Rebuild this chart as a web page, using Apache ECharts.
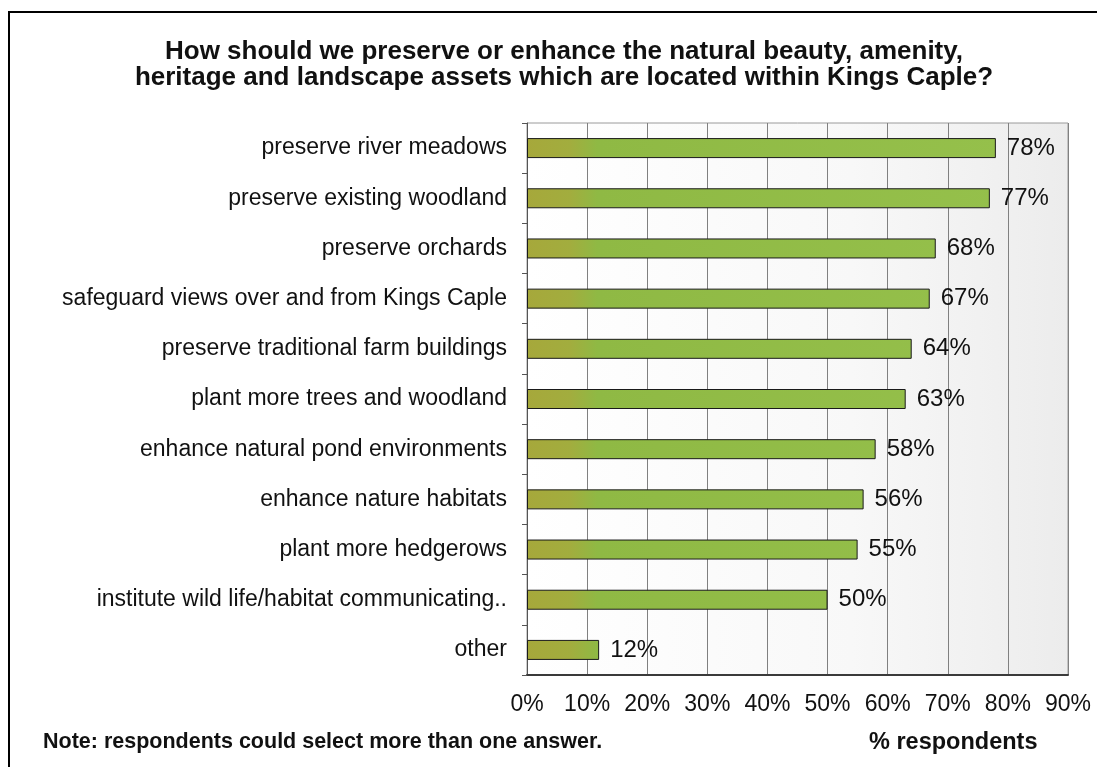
<!DOCTYPE html>
<html>
<head>
<meta charset="utf-8">
<style>
  html, body { margin: 0; padding: 0; background: #ffffff; }
  #chart { width: 1097px; height: 767px; }
</style>
<script src="https://cdn.jsdelivr.net/npm/echarts@6/dist/echarts.min.js"></script>
</head>
<body>
<div id="chart"></div>
<script>
// Survey answers, listed top to bottom
const categories = [
  'preserve river meadows',
  'preserve existing woodland',
  'preserve orchards',
  'safeguard views over and from Kings Caple',
  'preserve traditional farm buildings',
  'plant more trees and woodland',
  'enhance natural pond environments',
  'enhance nature habitats',
  'plant more hedgerows',
  'institute wild life/habitat communicating..',
  'other'
];
// Share of respondents choosing each answer (%)
const percentages = [78, 77, 68, 67, 64, 63, 58, 56, 55, 50, 12];
// Value-axis range and step (%)
const axisMin = 0;
const axisMax = 90;
const axisStep = 10;

const FONT = '"Liberation Sans", Arial, sans-serif';
const chart = echarts.init(document.getElementById('chart'));

// Bars share one horizontal gradient laid out in plot pixels
const barFill = new echarts.graphic.LinearGradient(527, 0, 1068, 0, [
  { offset: 0.0, color: '#a6a83b' },
  { offset: 0.08, color: '#a2ad3e' },
  { offset: 0.13, color: '#8fb944' },
  { offset: 1.0, color: '#96c14c' }
], true);

chart.setOption({
  backgroundColor: '#ffffff',
  animation: false,
  title: {
    text: 'How should we preserve or enhance the natural beauty, amenity,\nheritage and landscape assets which are located within Kings Caple?',
    left: 559,
    top: 34,
    textAlign: 'center',
    textStyle: {
      fontFamily: FONT,
      fontSize: 26,
      fontWeight: 'bold',
      color: '#111111',
      lineHeight: 26
    }
  },
  grid: {
    left: 527,
    right: 29,
    top: 123,
    bottom: 92,
    show: true,
    borderColor: '#9a9a9a',
    borderWidth: 1,
    backgroundColor: new echarts.graphic.LinearGradient(0, 0, 1, 0, [
      { offset: 0, color: '#ffffff' },
      { offset: 0.6, color: '#f8f8f8' },
      { offset: 1, color: '#ececec' }
    ])
  },
  xAxis: {
    type: 'value',
    min: axisMin,
    max: axisMax,
    interval: axisStep,
    axisLine: { show: true, lineStyle: { color: '#3a3a3a', width: 2 } },
    axisTick: { show: false },
    splitLine: { show: true, lineStyle: { color: '#808080', width: 1 } },
    axisLabel: {
      formatter: '{value}%',
      margin: 18,
      fontFamily: FONT,
      fontSize: 23,
      color: '#111111'
    }
  },
  yAxis: {
    type: 'category',
    data: categories,
    inverse: true,
    axisLine: { show: true, lineStyle: { color: '#555555', width: 1 } },
    axisTick: { show: true, length: 5, lineStyle: { color: '#555555' } },
    axisLabel: {
      margin: 20,
      fontFamily: FONT,
      fontSize: 23,
      color: '#111111'
    }
  },
  series: [{
    type: 'bar',
    data: percentages,
    barWidth: 20,
    itemStyle: {
      color: barFill,
      borderColor: '#1a1a1a',
      borderWidth: 1
    },
    label: {
      show: true,
      position: 'right',
      distance: 11,
      formatter: '{c}%',
      fontFamily: FONT,
      fontSize: 24,
      color: '#111111'
    }
  }],
  graphic: [
    {
      type: 'rect',
      shape: { x: 9, y: 12, width: 1100, height: 770 },
      style: { fill: 'none', stroke: '#000000', lineWidth: 2 },
      silent: true
    },
    {
      type: 'text',
      left: 43,
      top: 731,
      style: {
        text: 'Note: respondents could select more than one answer.',
        fontFamily: FONT,
        fontSize: 21.5,
        fontWeight: 'bold',
        fill: '#111111'
      }
    },
    {
      type: 'text',
      left: 869,
      top: 731,
      style: {
        text: '% respondents',
        fontFamily: FONT,
        fontSize: 23.5,
        fontWeight: 'bold',
        fill: '#111111'
      }
    }
  ]
});
</script>
</body>
</html>
